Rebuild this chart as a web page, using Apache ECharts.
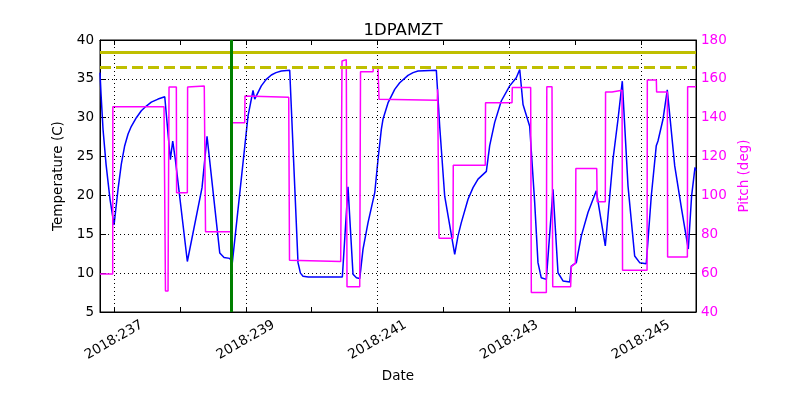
<!DOCTYPE html>
<html>
<head>
<meta charset="utf-8">
<script src="https://cdn.jsdelivr.net/npm/echarts@6/dist/echarts.min.js"></script>
<style>html,body{margin:0;padding:0;background:#fff}#c{width:800px;height:400px}</style>
</head>
<body>
<div id="c"></div>
<script>
// ---- data ----
const dayTicks = [237, 238, 239, 240, 241, 242, 243, 244, 245];
const dayLabels = [237, 239, 241, 243, 245];
const tempTicks = [5, 10, 15, 20, 25, 30, 35, 40];
const pitchTicks = [40, 60, 80, 100, 120, 140, 160, 180];

const tempDays = [236.787,236.803,236.833,236.879,236.939,237.000,237.061,237.110,237.162,237.213,237.263,237.339,237.414,237.490,237.566,237.668,237.770,237.794,237.855,237.891,237.931,238.113,238.336,238.412,238.605,238.670,238.756,238.796,239.034,239.110,239.136,239.236,239.307,239.388,239.459,239.540,239.667,239.743,239.793,239.830,239.869,239.950,240.466,240.552,240.628,240.680,240.730,240.780,240.856,240.958,241.008,241.058,241.083,241.159,241.261,241.337,241.463,241.540,241.615,241.893,241.944,242.020,242.172,242.222,242.272,242.374,242.450,242.526,242.652,242.703,242.779,242.879,243.007,243.107,243.159,243.209,243.310,243.386,243.436,243.486,243.563,243.664,243.740,243.816,243.918,243.942,244.018,244.094,244.195,244.321,244.458,244.575,244.651,244.716,244.803,244.904,244.980,245.080,245.156,245.232,245.258,245.334,245.399,245.512,245.617,245.718,245.768,245.820,245.835];
const tempVals = [35.8,33.0,28.5,24.0,19.5,16.2,20.8,24.0,26.4,27.9,28.9,30.0,30.9,31.5,32.0,32.4,32.7,32.8,24.6,27.0,24.6,11.5,21.0,27.6,12.6,12.0,11.9,11.35,30.2,33.5,32.4,34.1,34.9,35.5,35.8,36.0,36.1,21.2,11.35,10.0,9.6,9.5,9.5,21.1,9.85,9.4,9.3,13.1,16.5,20.35,24.65,28.5,29.8,31.9,33.65,34.5,35.45,35.8,36.0,36.1,28.9,19.9,12.4,14.8,16.5,19.5,21.0,22.1,23.1,26.4,29.4,32.15,34.1,35.15,36.2,31.7,28.9,19.1,11.35,9.4,9.2,20.8,10.05,9.0,8.85,10.9,11.35,14.8,17.8,20.6,13.5,24.65,29.8,34.7,21.2,12.2,11.35,11.2,19.9,26.4,27.0,29.8,33.6,23.8,18.2,13.1,19.9,23.6,23.2];

const pitchDays = [236.787,236.980,236.982,237.759,237.781,237.820,237.835,237.946,237.950,238.113,238.117,238.370,238.377,238.389,238.781,238.785,238.984,238.988,239.652,239.664,240.441,240.461,240.526,240.537,240.730,240.742,240.932,240.936,241.008,241.023,241.908,241.912,241.920,241.934,242.146,242.150,242.636,242.640,243.042,243.046,243.325,243.335,243.563,243.570,243.649,243.660,243.932,243.943,244.004,244.011,244.328,244.335,244.458,244.462,244.560,244.564,244.712,244.720,245.092,245.096,245.233,245.237,245.400,245.404,245.704,245.708,245.835];
const pitchVals = [59.6,59.6,145.7,145.7,50.8,50.8,155.8,155.8,101.4,101.4,155.8,156.3,156.3,81.3,81.3,137.4,137.4,151.2,150.5,66.6,66.0,169.2,169.9,53.0,53.0,163.7,163.7,165.4,165.4,149.5,149.0,154.6,154.6,78.0,78.0,115.5,115.5,147.7,147.7,155.5,155.5,50.0,50.0,156.0,156.0,53.0,53.0,63.5,65.0,113.8,113.8,96.8,96.8,153.2,153.2,154.1,154.1,61.5,61.5,159.4,159.4,153.2,153.2,68.3,68.3,156.0,156.0];

const planLimit = 38.45;
const cautionLimit = 36.5;
const markerDay = 238.776;

const xMin = 236.787, xMax = 245.835;
// ---- chart ----
const FONT = 'DejaVu Sans';
const chart = echarts.init(document.getElementById('c'), null, {renderer: 'canvas'});
const tempData = tempDays.map((d, i) => [d, tempVals[i]]);
const pitchData = pitchDays.map((d, i) => [d, pitchVals[i]]);

const gridLines = dayLabels.map(d => ({xAxis: d, lineStyle: {color: '#000', width: 1, type: [1, 3]}}));

chart.setOption({
  animation: false,
  backgroundColor: '#fff',
  title: {
    text: '1DPAMZT', left: 398, top: 17, textAlign: 'center',
    textStyle: {fontFamily: FONT, fontSize: 16.5, fontWeight: 'normal', color: '#000'}
  },
  grid: {left: 100, right: 104, top: 40, bottom: 88, show: true, borderColor: '#000', borderWidth: 1, containLabel: false},
  xAxis: [{
    type: 'value', min: xMin, max: xMax, position: 'bottom',
    name: 'Date', nameLocation: 'middle', nameGap: 57,
    nameTextStyle: {fontFamily: FONT, fontSize: 13.5, color: '#000'},
    axisLine: {show: true, onZero: false, lineStyle: {color: '#000', width: 1}},
    axisTick: {show: true, inside: true, length: 5, customValues: dayTicks, lineStyle: {color: '#000'}},
    axisLabel: {show: true, customValues: dayLabels, formatter: v => '2018:' + Math.round(v),
      rotate: 30, align: 'center', verticalAlign: 'middle', margin: 28,
      fontFamily: FONT, fontSize: 13.5, color: '#000'},
    splitLine: {show: false}
  }, {
    type: 'value', min: xMin, max: xMax, position: 'top',
    axisLine: {show: true, onZero: false, lineStyle: {color: '#000', width: 1}},
    axisTick: {show: true, inside: true, length: 5, customValues: dayTicks, lineStyle: {color: '#000'}},
    axisLabel: {show: false},
    splitLine: {show: false}
  }],
  yAxis: [{
    type: 'value', min: 5, max: 40, interval: 5, position: 'left',
    name: 'Temperature (C)', nameLocation: 'middle', nameGap: 29, nameRotate: 90,
    nameTextStyle: {fontFamily: FONT, fontSize: 13.5, color: '#000'},
    axisLine: {show: true, onZero: false, lineStyle: {color: '#000'}},
    axisTick: {show: true, inside: true, length: 6, lineStyle: {color: '#000'}},
    axisLabel: {margin: 6, fontFamily: FONT, fontSize: 13.5, color: '#000'},
    splitLine: {show: true, lineStyle: {color: '#000', width: 1, type: [1, 3]}}
  }, {
    type: 'value', min: 40, max: 180, interval: 20, position: 'right',
    name: 'Pitch (deg)', nameLocation: 'middle', nameGap: 31, nameRotate: 90,
    nameTextStyle: {fontFamily: FONT, fontSize: 13.5, color: '#ff00ff'},
    axisLine: {show: true, onZero: false, lineStyle: {color: '#000'}},
    axisTick: {show: true, inside: true, length: 6, lineStyle: {color: '#000'}},
    axisLabel: {margin: 5, fontFamily: FONT, fontSize: 13.5, color: '#ff00ff'},
    splitLine: {show: false}
  }],
  series: [{
    name: 'Temperature', type: 'line', xAxisIndex: 0, yAxisIndex: 0,
    data: tempData, showSymbol: false, symbol: 'none',
    lineStyle: {color: '#0000ff', width: 1.5}, z: 3,
    markLine: {
      silent: true, symbol: 'none', label: {show: false}, animation: false,
      data: gridLines.concat([
        {yAxis: planLimit, lineStyle: {color: '#bfbf00', width: 3, type: 'solid'}},
        {yAxis: cautionLimit, lineStyle: {color: '#bfbf00', width: 3, type: [11, 5]}},
        {xAxis: markerDay, lineStyle: {color: '#008000', width: 3, type: 'solid'}}
      ])
    }
  }, {
    name: 'Pitch', type: 'line', xAxisIndex: 0, yAxisIndex: 1,
    data: pitchData, showSymbol: false, symbol: 'none',
    lineStyle: {color: '#ff00ff', width: 1.5}, z: 4
  }]
});
</script>
</body>
</html>
